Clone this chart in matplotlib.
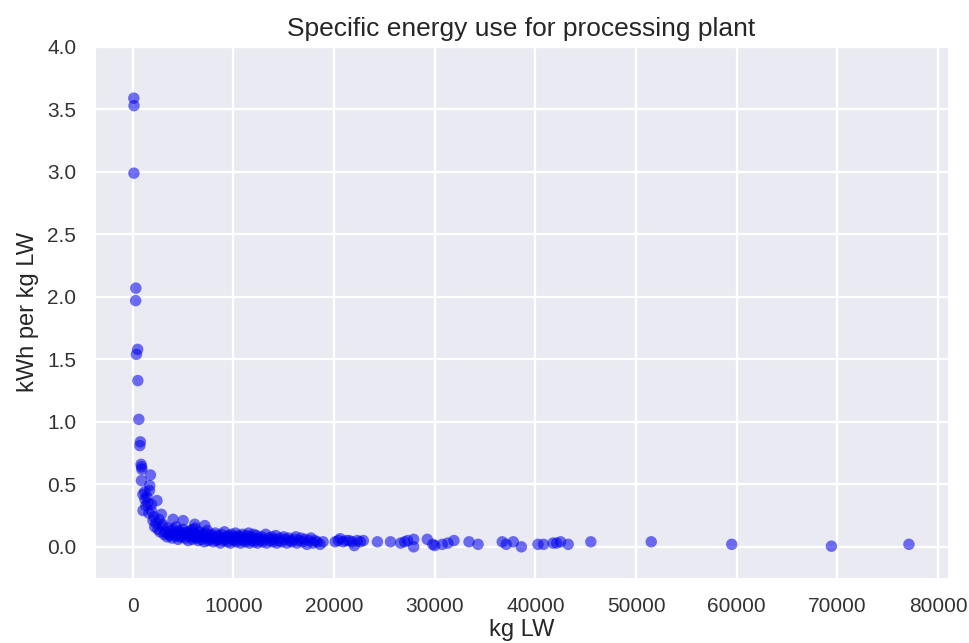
import matplotlib
matplotlib.use("Agg")
import matplotlib.pyplot as plt
import seaborn as sns

# Isolated points near origin
x_low = [100, 120, 110, 300, 280, 480, 360, 500, 600, 750, 700, 820, 870, 900,
         1750, 860, 1680, 1190, 1650, 1000, 2400, 1850, 1020, 1850, 2840, 2000,
         2180, 4000, 5000, 3000, 3100, 4000, 4600, 6000, 6100, 4600, 3700,
         1200, 1300, 1400, 1500, 1600, 2100, 2300, 2500, 2600, 2700, 2900, 6150, 7150]
y_low = [3.59, 3.53, 2.99, 2.07, 1.97, 1.58, 1.54, 1.33, 1.02, 0.84, 0.81, 0.66, 0.64, 0.62,
         0.575, 0.53, 0.49, 0.44, 0.45, 0.42, 0.37, 0.34, 0.29, 0.29, 0.26, 0.21,
         0.16, 0.22, 0.21, 0.18, 0.10, 0.14, 0.13, 0.14, 0.08, 0.08, 0.09,
         0.38, 0.33, 0.40, 0.35, 0.27, 0.24, 0.19, 0.14, 0.22, 0.12, 0.17, 0.18, 0.17]

# Dense cluster
x_dense = [3200, 3400, 3500, 3600, 3800, 3900, 4100, 4200, 4300, 4500, 4600, 4700, 4800,
           5000, 5100, 5200, 5300, 5400, 5500, 5600, 5700, 5800, 5900, 6000, 6100, 6200,
           6300, 6400, 6500, 6600, 6700, 6800, 6900, 7000, 7100, 7200, 7300, 7400, 7500,
           7600, 7700, 7800, 7900, 8000, 8100, 8200, 8300, 8400, 8500, 8600, 8700, 8800,
           8900, 9000, 9100, 9200, 9300, 9400, 9500, 9600, 9700, 9800, 9900, 10000, 10100,
           10200, 10300, 10400, 10500, 10600, 10700, 10800, 10900, 11000, 11100, 11200,
           11300, 11400, 11500, 11600, 11700, 11800, 11900, 12000, 12100, 12200, 12300,
           12400, 12500, 12600, 12800, 12900, 13000, 13200, 13300, 13500, 13600, 13800,
           13900, 14000, 14200, 14300, 14500, 14600, 14800, 15000, 15100, 15300, 15500,
           15600, 15800, 16000, 16200, 16300, 16500, 16700, 16900, 17100, 17300, 17500,
           17700, 17900, 18100, 18300, 18600, 18900,
           20100, 20400, 20600, 20900, 21200, 21500, 21800, 22000, 22300, 22600, 22900]
y_dense = [0.12, 0.08, 0.15, 0.10, 0.13, 0.07, 0.11, 0.09, 0.16, 0.06, 0.12, 0.10, 0.08,
           0.14, 0.11, 0.07, 0.09, 0.12, 0.05, 0.10, 0.13, 0.08, 0.06, 0.11, 0.09, 0.15,
           0.07, 0.10, 0.05, 0.12, 0.08, 0.06, 0.10, 0.09, 0.04, 0.11, 0.07, 0.13, 0.05,
           0.09, 0.06, 0.10, 0.08, 0.04, 0.07, 0.11, 0.05, 0.09, 0.06, 0.08, 0.03, 0.10,
           0.07, 0.05, 0.12, 0.06, 0.08, 0.04, 0.09, 0.07, 0.03, 0.10, 0.06, 0.08, 0.05,
           0.11, 0.04, 0.07, 0.09, 0.06, 0.03, 0.08, 0.10, 0.05, 0.07, 0.04,
           0.09, 0.06, 0.11, 0.03, 0.08, 0.05, 0.07, 0.10, 0.04, 0.06, 0.09,
           0.03, 0.07, 0.05, 0.08, 0.04, 0.06, 0.10, 0.03, 0.07, 0.05, 0.08,
           0.04, 0.06, 0.09, 0.03, 0.05, 0.07, 0.04, 0.08, 0.06, 0.03, 0.07,
           0.05, 0.04, 0.06, 0.08, 0.03, 0.05, 0.07, 0.04, 0.06, 0.02, 0.05,
           0.07, 0.03, 0.05, 0.04, 0.02, 0.04,
           0.04, 0.05, 0.065, 0.04, 0.05, 0.05, 0.04, 0.01, 0.05, 0.04, 0.05]

# Sparse tail
x_tail = [24300, 25600, 26600, 27000, 27300, 27900, 27900, 29250, 29800, 30000, 30750,
          31300, 31900, 33400, 34300, 36700, 37100, 37800, 38600, 40250, 40800, 41750,
          42100, 42500, 43250, 45500, 51500, 59500, 69400, 77100]
y_tail = [0.04, 0.04, 0.03, 0.04, 0.05, 0.06, 0.00, 0.06, 0.02, 0.01, 0.02,
          0.03, 0.05, 0.04, 0.02, 0.04, 0.02, 0.04, 0.00, 0.02, 0.02, 0.03,
          0.03, 0.04, 0.02, 0.04, 0.04, 0.02, 0.005, 0.02]

title = "Specific energy use for processing plant"
xlabel = "kg LW"
ylabel = "kWh per kg LW"

sns.set_style("darkgrid")
plt.rcParams['font.family'] = ['Liberation Sans', 'DejaVu Sans']

fig = plt.figure(figsize=(9.7, 6.43), dpi=100)
ax = fig.add_axes([0.098, 0.101, 0.879, 0.826])
ax.grid(True, color='white', linewidth=1.6)

xs = x_low + x_dense + x_tail
ys = y_low + y_dense + y_tail
ax.scatter(xs, ys, s=68, color='#0000ee', alpha=0.55, edgecolors='none', zorder=3)

ax.set_ylim(-0.25, 4.0)
ax.set_title(title, fontsize=19, color='#262626', pad=8)
ax.set_xlabel(xlabel, fontsize=17, color='#262626', labelpad=2)
ax.set_ylabel(ylabel, fontsize=17, color='#262626', labelpad=6)
ax.tick_params(labelsize=15, colors='#333333', pad=10)
ax.set_xticks([0, 10000, 20000, 30000, 40000, 50000, 60000, 70000, 80000])
ax.set_yticks([0.0, 0.5, 1.0, 1.5, 2.0, 2.5, 3.0, 3.5, 4.0])

fig.savefig("out.png", dpi=100)
